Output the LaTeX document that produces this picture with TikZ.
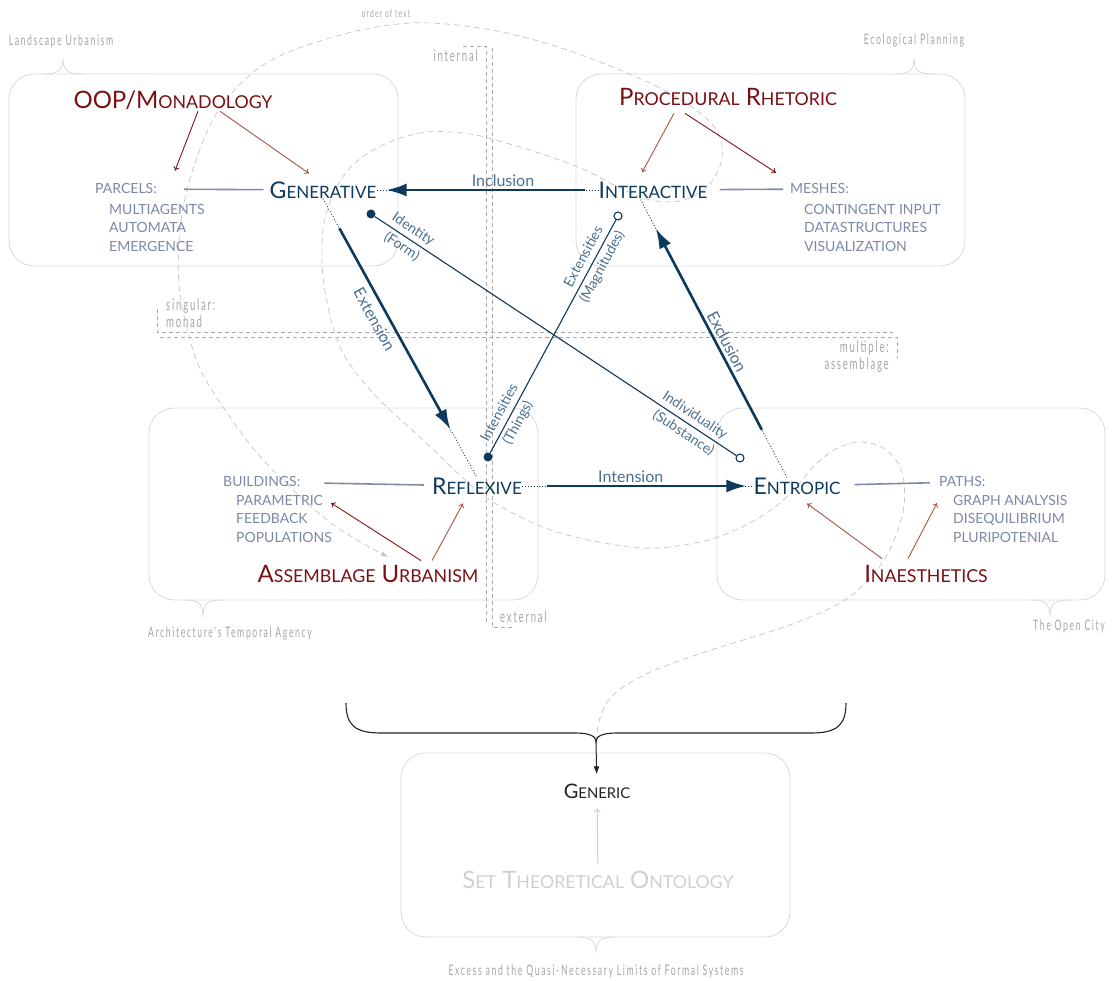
\documentclass[tikz,border=0pt]{standalone}
\usepackage{fontspec}
\setmainfont{Lato}
\newfontfamily\notefont{Lato}[FakeStretch=0.6,LetterSpace=11]
\usetikzlibrary{arrows.meta,positioning}
\definecolor{navy}{RGB}{13,58,92}
\definecolor{steel}{RGB}{76,111,143}
\definecolor{slate}{RGB}{125,136,166}
\definecolor{linkgrey}{RGB}{130,138,166}
\definecolor{wine}{RGB}{122,15,20}
\definecolor{redA}{RGB}{128,22,22}
\definecolor{redB}{RGB}{172,82,70}
\definecolor{boxgrey}{RGB}{218,218,218}
\definecolor{notegrey}{RGB}{165,165,165}
\definecolor{quadgrey}{RGB}{170,170,170}
\definecolor{ordergrey}{RGB}{196,196,196}
\definecolor{ink}{RGB}{35,35,35}
\definecolor{faint}{RGB}{208,208,208}
\newcommand{\sk}[1]{{\fontsize{\fpeval{0.74*\csname f@size\endcsname}}{0}\selectfont #1}}

\begin{document}
\begin{tikzpicture}[
    x=1pt, y=-1pt,
    >={Latex[length=20pt,width=13pt]},
    box/.style = {draw=boxgrey, line width=0.8pt, rounded corners=25pt},
    bump/.style = {draw=boxgrey, line width=0.8pt},
    main/.style = {inner sep=0pt, text=navy, font=\fontsize{23}{25}\selectfont},
    title/.style = {inner sep=0pt, text=wine, font=\fontsize{24}{26}\selectfont, anchor=base},
    head/.style = {inner sep=0pt, text=slate, font=\fontsize{14}{18.5}\selectfont, anchor=base west},
    items/.style = {head, align=left, anchor=north west},
    tag/.style = {inner sep=1pt, text=steel, font=\fontsize{16}{18}\selectfont},
    pair/.style = {sloped, align=center, inner sep=0pt, text=steel, font=\fontsize{14}{21}\selectfont},
    note/.style = {inner sep=0pt, text=notegrey, font=\notefont\fontsize{14.5}{17}\selectfont},
    bigarrow/.style = {->, navy, line width=2.6pt},
    dots/.style = {navy, dotted, line width=0.9pt},
    thin/.style = {navy, line width=1.1pt},
    link/.style = {linkgrey, line width=1.6pt},
    redarrow/.style = {line width=0.9pt, -{To[length=4pt,width=6pt]}},
    dot/.style = {circle, fill=navy, inner sep=0pt, minimum size=9pt},
    ring/.style = {circle, draw=navy, fill=white, line width=1.1pt, inner sep=0pt, minimum size=8pt},
    quad/.style = {quadgrey, line width=0.9pt, dash pattern=on 4pt off 3pt},
    order/.style = {ordergrey, line width=0.7pt, dash pattern=on 6pt off 4pt},
  ]
  \useasboundingbox (0,0) rectangle (1112,981);

  \draw[box] (9,74) rectangle (398,266);
  \draw[box] (576,74) rectangle (965,266);
  \draw[box] (149,408) rectangle (538,600);
  \draw[box] (717,408) rectangle (1105,600);
  \draw[box] (401,753) rectangle (790,937);
  \draw[bump] (43,74) .. controls (58,74) and (63,71) .. (63,58) .. controls (63,71) and (68,74) .. (83,74);
  \draw[bump] (894,74) .. controls (909,74) and (914,71) .. (914,58) .. controls (914,71) and (919,74) .. (934,74);
  \draw[bump] (183,600) .. controls (198,600) and (203,603) .. (203,617) .. controls (203,603) and (208,600) .. (223,600);
  \draw[bump] (1030,600) .. controls (1045,600) and (1050,603) .. (1050,617) .. controls (1050,603) and (1055,600) .. (1070,600);
  \draw[bump] (576,937) .. controls (591,937) and (596,940) .. (596,953) .. controls (596,940) and (601,937) .. (616,937);

  \node[note] (landscape) at (61,41) {Landscape Urbanism};
  \node[note] (ecological) at (914,40) {Ecological Planning};
  \node[note] (temporal) at (230,633) {Architecture's Temporal Agency};
  \node[note] (opencity) at (1069,626) {The Open City};
  \node[note] (excess) at (596,971) {Excess and the Quasi-Necessary Limits of Formal Systems};
  \node[note, font=\notefont\fontsize{11}{12}\selectfont] (ordertext) at (386,13) {order of text};

  \draw[quad] (463,46) -- (486,46) -- (486,625);
  \draw[quad] (492,48) -- (492,627) -- (512,627);
  \draw[quad] (157,309) -- (157,332) -- (893,332);
  \draw[quad] (160,337) -- (897,337) -- (897,358);
  \node[note, font=\notefont\fontsize{16}{17}\selectfont, anchor=east] (internal) at (478,56) {internal};
  \node[note, font=\notefont\fontsize{16}{17}\selectfont, anchor=west] (external) at (500,617) {external};
  \node[note, font=\notefont\fontsize{16}{17}\selectfont, anchor=north west, align=left] (singular) at (166,299) {singular:\\monad};
  \node[note, font=\notefont\fontsize{16}{17}\selectfont, anchor=north east, align=right] (multiple) at (889,341) {multiple:\\assemblage};

  \coordinate (bracetip) at (596,742);
  \coordinate (orderend) at (388,557);
  \draw[order, -{Latex[length=7pt,width=5pt]}] plot[smooth, tension=0.55] coordinates {
    (bracetip) (600,718) (613,695) (648,673) (711,650) (790,625) (848,598) (884,560)
    (903,512) (902,472) (885,449) (860,442) (836,449) (815,465) (798,485) (775,507)
    (740,528) (700,542) (640,548) (560,533) (507,510) (473,487) (423,440) (373,393)
    (340,347) (324,285) (323,230) (335,190) (355,163) (387,143) (427,132) (470,134)
    (506,143) (545,155) (585,170) (620,188) (650,200) (680,201) (705,189) (720,166)
    (721,140) (705,117) (664,90) (605,64) (545,43) (480,28) (411,23) (340,35)
    (268,62) (222,105) (196,160) (181,220) (179,285) (190,340) (203,375) (227,413)
    (257,453) (290,487) (327,520) (357,540) (orderend)};

  \node[main] (gen) at (323,190) {G\sk{ENERATIVE}};
  \node[main] (inter) at (653,190) {I\sk{NTERACTIVE}};
  \node[main] (refl) at (477,486) {R\sk{EFLEXIVE}};
  \node[main] (entr) at (797,486) {E\sk{NTROPIC}};

  \node[title] (oop) at (173,109) {OOP/M\sk{ONADOLOGY}};
  \node[title] (proc) at (728,106) {P\sk{ROCEDURAL} R\sk{HETORIC}};
  \node[title] (assem) at (368,583) {A\sk{SSEMBLAGE} U\sk{RBANISM}};
  \node[title] (inaes) at (926,583) {I\sk{NAESTHETICS}};

  \node[head] (parcels) at (95,194) {PARCELS:};
  \node[items] (parcelslist) at (109,204) {MULTIAGENTS\\AUTOMATA\\EMERGENCE};
  \node[head] (meshes) at (790,194) {MESHES:};
  \node[items] (meshlist) at (804,204) {CONTINGENT INPUT\\DATASTRUCTURES\\VISUALIZATION};
  \node[head] (buildings) at (223,487) {BUILDINGS:};
  \node[items] (buildlist) at (236,495) {PARAMETRIC\\FEEDBACK\\POPULATIONS};
  \node[head] (paths) at (939,487) {PATHS:};
  \node[items] (pathlist) at (953,495) {GRAPH ANALYSIS\\DISEQUILIBRIUM\\PLURIPOTENIAL};

  \draw[link, shorten <=27pt, shorten >=6pt] (parcels) -- (gen);
  \draw[link, shorten <=12pt, shorten >=7pt] (inter) -- (meshes);
  \draw[link, shorten <=24pt, shorten >=8pt] (buildings) -- (refl);
  \draw[link, shorten <=14pt, shorten >=9pt] (entr) -- (paths);

  \draw[redarrow, redA] ([shift={(25pt,-1pt)}]oop.south) -- ([shift={(18pt,13pt)}]parcels.north east);
  \draw[redarrow, redB] ([shift={(47pt,-1pt)}]oop.south) -- ([shift={(-14pt,8pt)}]gen.north);
  \draw[redarrow, redB] ([shift={(-54pt,-7pt)}]proc.south) -- ([shift={(-11pt,9pt)}]inter.north);
  \draw[redarrow, redA] ([shift={(-43pt,-7pt)}]proc.south) -- ([shift={(-14pt,11pt)}]meshes.north west);
  \draw[redarrow, redA] ([shift={(53pt,5pt)}]assem.north) -- ([shift={(-1pt,-8pt)}]buildlist.north east);
  \draw[redarrow, redB] ([shift={(64pt,5pt)}]assem.north) -- ([shift={(-14pt,-9pt)}]refl.south);
  \draw[redarrow, redB] ([shift={(-44pt,7pt)}]inaes.north) -- ([shift={(10pt,-9pt)}]entr.south);
  \draw[redarrow, redB] ([shift={(-18pt,7pt)}]inaes.north) -- ([shift={(-16pt,-8pt)}]pathlist.north west);

  \draw[dots] (inter.west) -- (gen.east);
  \draw[bigarrow, shorten <=13pt, shorten >=10pt] (inter.west) -- (gen.east)
    node[tag, pos=0.43, above=1pt] {Inclusion};
  \draw[dots] (refl.east) -- (entr.west);
  \draw[bigarrow, shorten <=25pt, shorten >=7pt] (refl.east) -- (entr.west)
    node[tag, pos=0.47, above=1pt] {Intension};
  \draw[dots] (gen.south) -- (refl.north);
  \draw[bigarrow, shorten <=34pt, shorten >=55pt] (gen.south) -- (refl.north)
    node[tag, sloped, pos=0.41, below=5pt] {Extension};
  \draw[dots] ([xshift=-10pt]entr.north) -- ([xshift=-13pt]inter.south);
  \draw[bigarrow, shorten <=54pt, shorten >=34pt] ([xshift=-10pt]entr.north) -- ([xshift=-13pt]inter.south)
    node[tag, sloped, pos=0.47, above=2pt] {Exclusion};

  \node[dot] (identdot) at (371,214) {};
  \node[ring] (indivring) at (740,458) {};
  \node[dot] (intdot) at (488,457) {};
  \node[ring] (extring) at (618,216) {};
  \draw[thin] (identdot) -- (indivring)
    node[pair, pos=0.09] {Identity\\(Form)}
    node[pair, pos=0.87] {Individuality\\(Substance)};
  \draw[thin] (intdot) -- (extring)
    node[pair, pos=0.15] {Intensities\\(Things)}
    node[pair, pos=0.82] {Extensities\\(Magnitudes)};

  \draw[ink, line width=1.1pt] (346,703) .. controls (346,726) and (356,733) .. (381,733) -- (574,733)
    .. controls (590,733) and (596,736) .. (bracetip) .. controls (596,736) and (602,733) .. (618,733)
    -- (811,733) .. controls (836,733) and (846,726) .. (846,703);
  \node[main, text=ink, font=\fontsize{20}{22}\selectfont, anchor=base] (generic) at (597,798) {G\sk{ENERIC}};
  \node[main, text=faint, font=\fontsize{24}{26}\selectfont, anchor=base] (settheory) at (598,888) {S\sk{ET} T\sk{HEORETICAL} O\sk{NTOLOGY}};
  \draw[ink, line width=1pt, -{Latex[length=8pt,width=6pt]}, shorten >=9pt] (bracetip) -- (generic);
  \draw[faint, line width=1pt, -{To[length=4pt,width=7pt]}, shorten <=6pt, shorten >=10pt] (settheory) -- (generic);
\end{tikzpicture}
\end{document}
